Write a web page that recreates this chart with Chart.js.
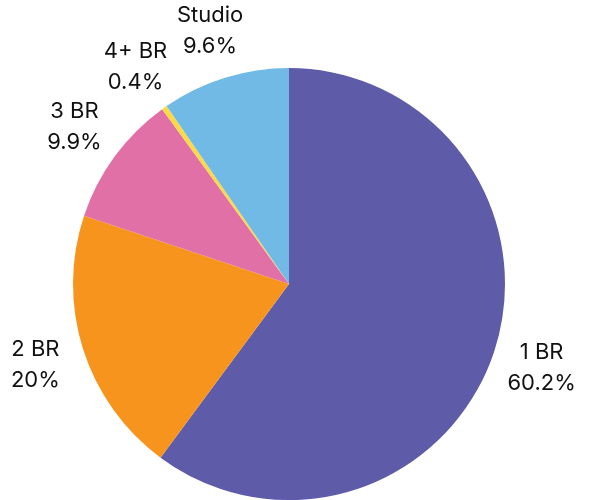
<!DOCTYPE html>
<html>
<head>
<meta charset="utf-8">
<script src="https://cdn.jsdelivr.net/npm/chart.js@4.4.1/dist/chart.umd.min.js"></script>
<style>
  html, body { margin: 0; padding: 0; background: #fff; }
  #wrap { width: 592px; height: 500px; }
</style>
</head>
<body>
<div id="wrap"><canvas id="pie"></canvas></div>
<script>
// ── Data ───────────────────────────────────────────────
const categories = ['1 BR', '2 BR', '3 BR', '4+ BR', 'Studio'];
const shares     = [60.2, 20, 9.9, 0.4, 9.6];
const shareLabels = ['60.2%', '20%', '9.9%', '0.4%', '9.6%'];
const colors     = ['#5e5ba8', '#f7941e', '#e070a5', '#fcd946', '#72bae6'];

// labels sit just outside each slice, two lines: name + share
const outsideLabels = {
  id: 'outsideLabels',
  afterDatasetsDraw(chart) {
    const ctx = chart.ctx;
    const meta = chart.getDatasetMeta(0);
    ctx.save();
    ctx.font = '22px Inter, "Noto Sans", sans-serif';
    ctx.fillStyle = '#111';
    ctx.textAlign = 'center';
    ctx.textBaseline = 'middle';
    meta.data.forEach((arc, i) => {
      const mid = (arc.startAngle + arc.endAngle) / 2;
      const r = arc.outerRadius + 50;
      const x = arc.x + Math.cos(mid) * r;
      const y = arc.y + Math.sin(mid) * r;
      ctx.fillText(categories[i], x, y - 15);
      ctx.fillText(shareLabels[i], x, y + 16);
    });
    ctx.restore();
  }
};

new Chart(document.getElementById('pie'), {
  type: 'pie',
  data: {
    labels: categories,
    datasets: [{
      data: shares,
      backgroundColor: colors,
      borderWidth: 0
    }]
  },
  options: {
    responsive: true,
    maintainAspectRatio: false,
    animation: false,
    layout: { padding: { top: 68, bottom: 0, left: 73, right: 87 } },
    plugins: {
      legend: { display: false },
      tooltip: { enabled: false }
    }
  },
  plugins: [outsideLabels]
});
</script>
</body>
</html>
